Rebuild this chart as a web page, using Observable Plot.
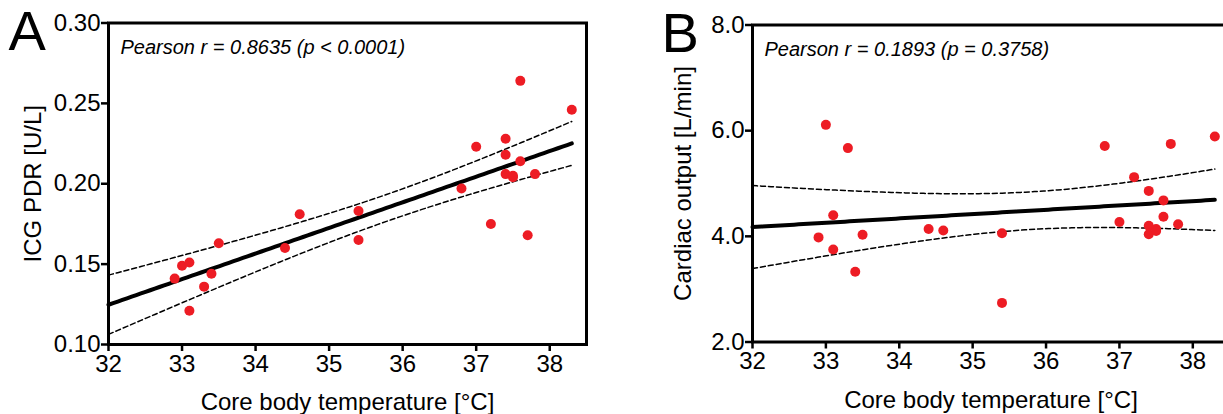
<!DOCTYPE html>
<html><head><meta charset="utf-8">
<script src="https://cdn.jsdelivr.net/npm/d3@7"></script>
<script src="https://cdn.jsdelivr.net/npm/@observablehq/plot@0.6"></script>
<style>
html,body{margin:0;padding:0;background:#fff;overflow:hidden;width:1223px;height:414px;}
#wrap{position:relative;width:1223px;height:414px;overflow:hidden;}
#a{position:absolute;left:0;top:0;width:600px;height:414px;}
#b{position:absolute;left:620px;top:0;width:620px;height:414px;}
#a svg,#b svg{max-width:none !important;}
</style></head><body><div id="wrap"><div id="a"></div><div id="b"></div></div>
<script>
// Panel A: core body temperature vs ICG PDR (n = 24, two dots overlap near 37.5)
const tempA = [32.9, 33.0, 33.1, 33.1, 33.3, 33.4, 33.5, 34.4, 34.6, 35.4, 35.4, 36.8, 37.0, 37.2, 37.4, 37.4, 37.4, 37.5, 37.5, 37.6, 37.6, 37.7, 37.8, 38.3];
const pdrA  = [0.141, 0.149, 0.151, 0.121, 0.136, 0.144, 0.163, 0.160, 0.181, 0.183, 0.165, 0.197, 0.223, 0.175, 0.228, 0.218, 0.206, 0.204, 0.205, 0.214, 0.264, 0.168, 0.206, 0.246];
// Panel B: core body temperature vs cardiac output (n = 24, dots overlap near 37.4–37.5)
const tempB = [32.9, 33.0, 33.1, 33.1, 33.3, 33.4, 33.5, 34.4, 34.6, 35.4, 35.4, 36.8, 37.0, 37.2, 37.4, 37.4, 37.4, 37.5, 37.5, 37.6, 37.6, 37.7, 37.8, 38.3];
const coB   = [3.98, 6.11, 4.40, 3.75, 5.67, 3.33, 4.03, 4.14, 4.11, 4.06, 2.74, 5.71, 4.27, 5.12, 4.86, 4.20, 4.04, 4.14, 4.10, 4.68, 4.37, 5.75, 4.23, 5.89];

const xTicks = [32, 33, 34, 35, 36, 37, 38];
const yTicksA = [0.10, 0.15, 0.20, 0.25, 0.30];
const yTicksB = [2, 4, 6, 8];
const xTitle = "Core body temperature [°C]";
const yTitleA = "ICG PDR [U/L]";
const yTitleB = "Cardiac output [L/min]";
const statA = "Pearson r = 0.8635 (p < 0.0001)";
const statB = "Pearson r = 0.1893 (p = 0.3758)";
const panelA = "A", panelB = "B";

const FONT = "'Liberation Sans', Arial, Helvetica, sans-serif";
const RED = "#ed1c24";

// least-squares fit with 95% confidence band of the mean
function fit(xs, ys, x0) {
  const n = xs.length, mx = d3.mean(xs), my = d3.mean(ys);
  let sxx = 0, sxy = 0;
  for (let i = 0; i < n; i++) { sxx += (xs[i]-mx)**2; sxy += (xs[i]-mx)*(ys[i]-my); }
  const b = sxy/sxx, a = my - b*mx;
  let sse = 0;
  for (let i = 0; i < n; i++) sse += (ys[i] - (a + b*xs[i]))**2;
  const s = Math.sqrt(sse/(n-2));
  const t = 2.0739; // t(0.975, df = 22)
  const x1 = d3.max(xs);
  return d3.range(0, 101).map(i => {
    const x = x0 + (x1 - x0) * i / 100;
    const yh = a + b*x;
    const se = s * Math.sqrt(1/n + (x-mx)**2/sxx);
    return {x, y: yh, lo: yh - t*se, hi: yh + t*se};
  });
}

function panel({xs, ys, yDomain, yTicks, yFmt, yTitle, stat, letter, width, marginLeft, marginRight, marginTop, marginBottom, letterDx, yTitleDx}) {
  const pts = xs.map((x, i) => ({x, y: ys[i]}));
  const f = fit(xs, ys, 32);
  return Plot.plot({
    width, height: 414, marginLeft, marginRight, marginTop, marginBottom,
    x: {domain: [32, 38.5]},
    y: {domain: yDomain},
    style: {fontFamily: FONT, fontSize: "24px", color: "#000", background: "#fff", overflow: "visible", maxWidth: "none"},
    marks: [
      Plot.line(f, {x: "x", y: "hi", stroke: "#000", strokeWidth: 1.5, strokeDasharray: "5,3"}),
      Plot.line(f, {x: "x", y: "lo", stroke: "#000", strokeWidth: 1.5, strokeDasharray: "5,3"}),
      Plot.line(f, {x: "x", y: "y", stroke: "#000", strokeWidth: 4, strokeLinecap: "round"}),
      Plot.dot(pts, {x: "x", y: "y", r: 5, fill: RED, stroke: null}),
      Plot.frame({stroke: "#000", strokeWidth: 3}),
      Plot.axisX({ticks: xTicks, tickSize: 7, tickPadding: 3, tickFormat: d => String(d), fontSize: 24, strokeWidth: 2.5, label: null}),
      Plot.axisY({ticks: yTicks, tickSize: 7, tickPadding: 1, tickFormat: yFmt, fontSize: 24, strokeWidth: 2.5, label: null}),
      Plot.text([xTitle], {text: d => d, frameAnchor: "bottom", dy: 58, lineAnchor: "middle", fontSize: 24, fill: "#000"}),
      Plot.text([yTitle], {text: d => d, frameAnchor: "left", dx: yTitleDx, rotate: -90, textAnchor: "middle", lineAnchor: "middle", fontSize: 24, fill: "#000"}),
      Plot.text([stat], {text: d => d, frameAnchor: "top-left", dx: 12, dy: 25, textAnchor: "start", lineAnchor: "middle", fontSize: 20, fontStyle: "italic", fill: "#000"}),
      Plot.text([letter], {text: d => d, frameAnchor: "top-left", dx: letterDx, dy: -12.5, textAnchor: "start", lineAnchor: "top", fontSize: 56, fill: "#000"})
    ]
  });
}

document.getElementById("a").append(panel({
  xs: tempA, ys: pdrA, yDomain: [0.10, 0.30], yTicks: yTicksA, yFmt: d => d.toFixed(2),
  yTitle: yTitleA, stat: statA, letter: panelA,
  width: 600, marginLeft: 108, marginRight: 14, marginTop: 22.5, marginBottom: 70,
  letterDx: -100, yTitleDx: -75
}));
document.getElementById("b").append(panel({
  xs: tempB, ys: coB, yDomain: [2, 8], yTicks: yTicksB, yFmt: d => d.toFixed(1),
  yTitle: yTitleB, stat: statB, letter: panelB,
  width: 620, marginLeft: 132, marginRight: 11, marginTop: 24.5, marginBottom: 72.5,
  letterDx: -91, yTitleDx: -69
}));
</script></body></html>
